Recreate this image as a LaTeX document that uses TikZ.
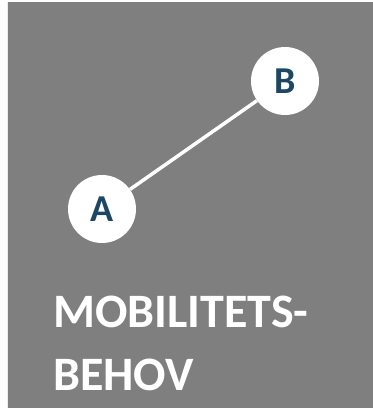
\documentclass[tikz,border=0pt]{standalone}
\usepackage{fontspec}
\setmainfont{Carlito}
\definecolor{bggray}{RGB}{127,127,127}
\definecolor{letterblue}{RGB}{28,72,102}
\begin{document}
\begin{tikzpicture}[x=1pt,y=-1pt,
  pin/.style={circle,fill=white,minimum size=68pt,inner sep=0pt,text=letterblue,font=\fontsize{38}{40}\selectfont\bfseries},
  title/.style={anchor=base west,inner sep=0pt,text=white,font=\fontsize{48}{60}\selectfont\bfseries}]
\useasboundingbox (0,0) rectangle (373,408);
\fill[bggray] (7,2) rectangle (373,408);
\draw[white!85!bggray,line width=0.8pt] (7.4,2) -- (7.4,408);
\node[pin] (A) at (102,209) {A};
\node[pin] (B) at (285,81) {B};
\draw[white,line width=3.5pt] (A) -- (B);
\node[title] (t1) at (53,327) {MOBILITETS-};
\node[title] (t2) at (53,390) {BEHOV};
\end{tikzpicture}
\end{document}
